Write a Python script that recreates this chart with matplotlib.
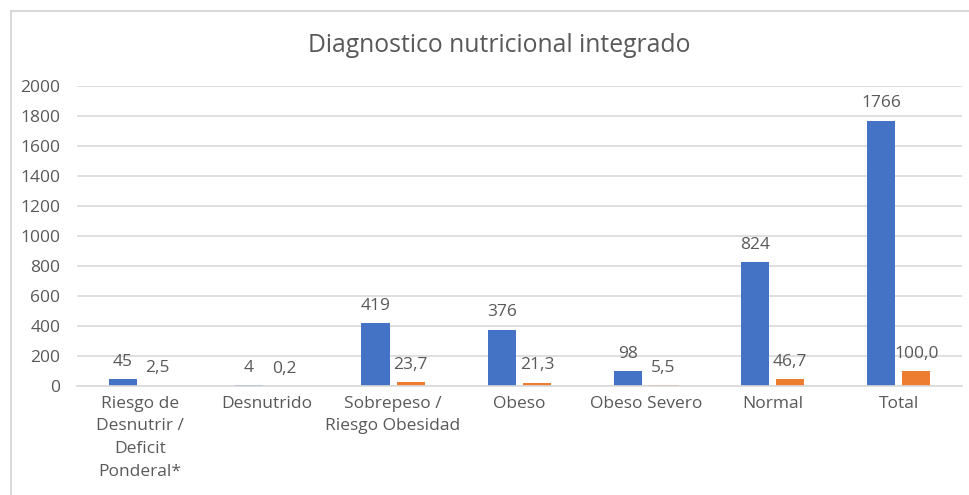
import numpy as np
import matplotlib.pyplot as plt
from matplotlib.patches import Rectangle

categories = ['Riesgo de\nDesnutrir /\nDeficit\nPonderal*', 'Desnutrido',
              'Sobrepeso /\nRiesgo Obesidad', 'Obeso', 'Obeso Severo',
              'Normal', 'Total']
counts = [45, 4, 419, 376, 98, 824, 1766]
percents = [2.5, 0.2, 23.7, 21.3, 5.5, 46.7, 100.0]
yticks = [0, 200, 400, 600, 800, 1000, 1200, 1400, 1600, 1800, 2000]

text_color = '#595959'
plt.rcParams['font.family'] = ['Open Sans', 'DejaVu Sans']

fig = plt.figure(figsize=(9.69, 4.95), dpi=100)
ax = fig.add_axes([77 / 969, 1 - 386 / 495, (962 - 77) / 969, (386 - 85.5) / 495])

# chart border (Excel-style, cut off at right and bottom)
fig.patches.append(Rectangle((11 / 969, -0.1), 1.2, 1 - 11 / 495 + 0.1,
                             transform=fig.transFigure, fill=False,
                             edgecolor='#d9d9d9', linewidth=1.5))

x = np.arange(len(categories))
w = 0.222
off = 0.139
b1 = ax.bar(x - off, counts, w, color='#4472c4')
b2 = ax.bar(x + off, percents, w, color='#ed7d31')

for bars, vals, fmt in [(b1, counts, '{:d}'), (b2, percents, '{:.1f}')]:
    for bar, v in zip(bars, vals):
        lab = fmt.format(v).replace('.', ',')
        ax.annotate(lab, (bar.get_x() + bar.get_width() / 2, v),
                    xytext=(0, 12.5), textcoords='offset points',
                    ha='center', va='center', fontsize=12.5, color=text_color)

ax.set_xlim(-0.5, len(categories) - 0.5)
ax.set_ylim(0, 2000)
ax.set_yticks(yticks)
ax.set_xticks(x)
ax.set_xticklabels(categories, linespacing=1.55)
ax.tick_params(axis='both', length=0, labelsize=12.5, labelcolor=text_color)
ax.tick_params(axis='y', pad=12)
ax.tick_params(axis='x', pad=7)
for lab in ax.get_xticklabels():
    lab.set_verticalalignment('top')
ax.grid(axis='y', color='#d9d9d9', linewidth=1.2)
ax.set_axisbelow(True)
for s in ['top', 'right', 'left']:
    ax.spines[s].set_visible(False)
ax.spines['bottom'].set_color('#d9d9d9')
ax.spines['bottom'].set_linewidth(1.2)

fig.text(499 / 969, 1 - 45 / 495, 'Diagnostico nutricional integrado', ha='center',
         va='center', fontsize=17.8, color=text_color)

fig.savefig('out.png', dpi=100)
